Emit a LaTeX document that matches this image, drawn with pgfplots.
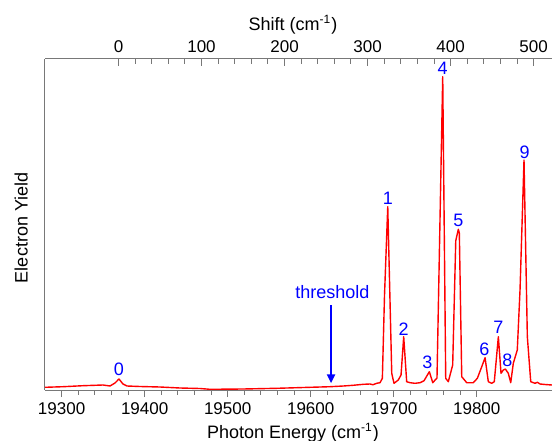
\documentclass[border=0pt]{standalone}
\usepackage{pgfplots}
\pgfplotsset{compat=1.18}
\usepackage{fontspec}
\setmainfont{Liberation Sans}
\usetikzlibrary{arrows.meta}

\definecolor{axgray}{RGB}{120,120,120}

% spectrum: photon energy (cm^-1) vs electron yield (arb.)
\pgfplotstableread{
E y
19280.0 2.7
19301.7 3.3
19325.8 4.3
19349.9 5.0
19358.3 4.0
19364.3 7.0
19369.1 11.0
19373.9 6.0
19378.7 4.0
19394.4 3.5
19418.5 3.0
19442.6 2.0
19466.7 1.5
19478.7 0.7
19518.5 1.0
19559.1 1.7
19599.2 2.7
19623.3 3.3
19639.3 4.0
19651.0 4.7
19663.4 5.7
19671.4 6.0
19675.0 5.3
19679.5 6.7
19683.5 7.3
19686.3 11.7
19688.9 95
19692.8 183.3
19697.6 16.7
19700.3 6.7
19705.5 10.0
19708.8 15.0
19712.0 53.3
19715.6 8.3
19719.6 7.3
19725.6 6.7
19731.7 7.3
19736.5 9.3
19742.9 18.3
19747.0 7.3
19750.6 10.7
19752.1 12.0
19759.0 313.3
19762.6 11.7
19765.7 8.3
19771.0 25.0
19774.7 149.3
19777.8 160.7
19779.0 157.0
19781.9 13.3
19787.9 7.3
19795.8 7.3
19800.7 11.7
19806.0 23.3
19810.0 32.3
19813.9 8.3
19818.0 6.7
19821.1 8.3
19826.0 53.3
19829.2 16.7
19832.0 20.0
19834.4 21.0
19838.0 16.7
19840.9 7.3
19844.0 26.7
19848.8 40.0
19852.1 100.0
19856.9 230.0
19860.9 53.3
19865.0 8.3
19870.2 6.7
19873.0 7.7
19876.2 6.0
19882.2 5.5
19890.6 5.0
}\spectrum

\tikzset{peak/.style={blue, anchor=base, font=\fontsize{9}{11}\selectfont}}

\pgfplotsset{
  common/.style={
    at={(22.5pt,25pt)}, anchor=south west,
    width=253.5pt, height=165.5pt, scale only axis,
    ymin=0, ymax=331,
    ytick=\empty,
    scaled x ticks=false,
    axis line style={-, axgray, line width=0.5pt},
    tick style={axgray, line width=0.5pt},
    major tick length=3.5pt, minor tick length=2.3pt,
    minor x tick num=4,
    /pgf/number format/assume math mode=true,
    /pgf/number format/1000 sep={},
    label style={font=\fontsize{9}{11}\selectfont},
    clip=false,
  },
}

\begin{document}
\fontsize{8.5}{10}\selectfont
\begin{tikzpicture}
\useasboundingbox (0,0) rectangle (276pt,220pt);

\begin{axis}[common,
    xmin=19280, xmax=19890.6,
    axis x line*=bottom, axis y line*=left,
    tick align=outside,
    xtick={19300,19400,...,19800},
    xlabel={Photon Energy (cm\textsuperscript{-1})},
    xlabel style={at={(axis description cs:0.489,-0.147)}, anchor=base},
    ylabel={Electron Yield},
    ylabel style={at={(axis description cs:-0.047,0.49)}, anchor=center},
  ]
  \addplot[red, line width=0.7pt, line join=round, no marks] table[x=E, y=y] {\spectrum};

  \node[peak] at (axis cs:19369.1,15) {0};
  \node[peak] at (axis cs:19692.8,186) {1};
  \node[peak] at (axis cs:19712.0,55) {2};
  \node[peak] at (axis cs:19740.4,21.7) {3};
  \node[peak] at (axis cs:19759.0,315) {4};
  \node[peak] at (axis cs:19777.8,164) {5};
  \node[peak] at (axis cs:19809.1,35) {6};
  \node[peak] at (axis cs:19826.0,56.7) {7};
  \node[peak] at (axis cs:19836.8,24) {8};
  \node[peak] at (axis cs:19857.7,231.7) {9};

  \node[peak] at (axis cs:19626,91.7) {threshold};
  \draw[blue, line width=1.2pt, -{Triangle[length=4.5pt,width=4pt]}]
    (axis cs:19624.5,85) -- (axis cs:19624.5,6.7);
\end{axis}

\begin{axis}[common,
    xmin=-88.5, xmax=522.1,
    axis x line*=top, axis y line=none,
    tick align=inside,
    xticklabel pos=right,
    xtick={0,100,...,500},
    xlabel={Shift (cm\textsuperscript{-1})},
    xlabel style={at={(axis description cs:0.489,1.085)}, anchor=base},
  ]
\end{axis}
\end{tikzpicture}
\end{document}
